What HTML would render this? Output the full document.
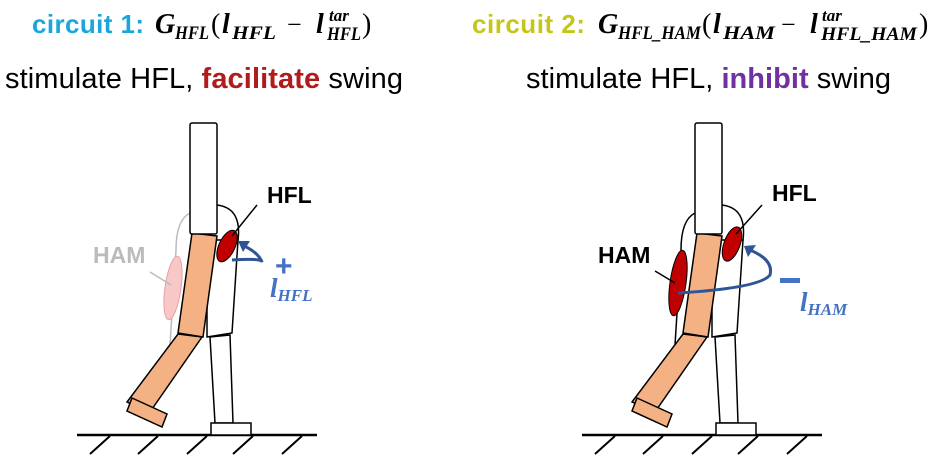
<!DOCTYPE html>
<html><head><meta charset="utf-8"><style>
html,body{margin:0;padding:0;background:#fff;width:942px;height:464px;overflow:hidden}
svg{display:block}
.t{font-family:"Liberation Sans",sans-serif}
.m{font-family:"Liberation Serif",serif;font-style:italic;font-weight:bold}
.p{font-family:"Liberation Serif",serif}
</style></head><body>
<svg width="942" height="464" viewBox="0 0 942 464" xmlns="http://www.w3.org/2000/svg">
<defs>
<g id="body">
  <line x1="77" y1="435" x2="317" y2="435" stroke="#000" stroke-width="2.5"/>
  <g stroke="#000" stroke-width="2">
    <line x1="110" y1="436" x2="90" y2="454"/>
    <line x1="158" y1="436" x2="138" y2="454"/>
    <line x1="207" y1="436" x2="187" y2="454"/>
    <line x1="253" y1="436" x2="233" y2="454"/>
    <line x1="302" y1="436" x2="282" y2="454"/>
  </g>
  <polygon points="210,337 230,335 233,423 215,423" fill="#fff" stroke="#000" stroke-width="1.5"/>
  <rect x="211" y="423" width="40" height="12" fill="#fff" stroke="#000" stroke-width="1.5"/>
  <polygon points="207,240 238,240 232,333 207,337" fill="#fff" stroke="#000" stroke-width="1.5"/>
  <polygon points="178,334 202,337 150,412 127,402" fill="#f4b183" stroke="#000" stroke-width="1.5"/>
  <polygon points="132,398 167,414 162,427 127,411" fill="#f4b183" stroke="#000" stroke-width="1.5"/>
  <polygon points="192,233 217,236 203,337 178,333" fill="#f4b183" stroke="#000" stroke-width="1.5"/>
  <rect x="190" y="123" width="27" height="111" rx="2" fill="#fff" stroke="#000" stroke-width="1.5"/>
</g>
</defs>

<!-- titles -->
<text x="32" y="33" class="t" font-size="26" font-weight="bold" fill="#1aa6dc" textLength="112">circuit 1:</text>
<text x="155" y="33" class="m" font-size="28">G</text>
<text x="175" y="39" class="m" font-size="19" textLength="34" lengthAdjust="spacingAndGlyphs">HFL</text>
<text x="211" y="33" class="p" font-size="28">(</text>
<text x="222" y="33" class="m" font-size="28">l</text>
<text x="232" y="39" class="m" font-size="19" textLength="44" lengthAdjust="spacingAndGlyphs">HFL</text>
<text x="287" y="33" class="p" font-size="26">−</text>
<text x="316" y="33" class="m" font-size="28">l</text>
<text x="327" y="40" class="m" font-size="19" textLength="34" lengthAdjust="spacingAndGlyphs">HFL</text>
<text x="329" y="21" class="m" font-size="17">tar</text>
<text x="362" y="33" class="p" font-size="28">)</text>
<text x="5" y="88" class="t" font-size="29" textLength="398">stimulate HFL, <tspan font-weight="bold" fill="#b01c1c">facilitate</tspan> swing</text>

<text x="472" y="33" class="t" font-size="26" font-weight="bold" fill="#c6c61a" textLength="113">circuit 2:</text>
<text x="598" y="33" class="m" font-size="28">G</text>
<text x="618" y="39" class="m" font-size="19" textLength="83" lengthAdjust="spacingAndGlyphs">HFL_HAM</text>
<text x="702" y="33" class="p" font-size="28">(</text>
<text x="713" y="33" class="m" font-size="28">l</text>
<text x="723" y="39" class="m" font-size="19" textLength="52" lengthAdjust="spacingAndGlyphs">HAM</text>
<text x="781" y="33" class="p" font-size="26">−</text>
<text x="810" y="33" class="m" font-size="28">l</text>
<text x="821" y="40" class="m" font-size="19" textLength="96" lengthAdjust="spacingAndGlyphs">HFL_HAM</text>
<text x="822" y="21" class="m" font-size="17">tar</text>
<text x="919" y="33" class="p" font-size="28">)</text>
<text x="526" y="88" class="t" font-size="29" textLength="365">stimulate HFL, <tspan font-weight="bold" fill="#7030a0">inhibit</tspan> swing</text>

<!-- panel 1 -->
<path d="M217,205 Q242,208 238,240 Q232,265 212,280" fill="none" stroke="#000" stroke-width="1.5"/>
<path d="M190,213 Q176,220 176,250 L170,345" fill="none" stroke="#bbb" stroke-width="1.5"/>
<use href="#body"/>
<ellipse cx="173" cy="288" rx="8" ry="32" transform="rotate(8 173 288)" fill="#f8c8c8" stroke="#e8a0a0" stroke-width="1"/>
<line x1="150" y1="272" x2="171" y2="285" stroke="#bbb" stroke-width="1.5"/>
<text x="93" y="263" class="t" font-size="23" font-weight="bold" fill="#bbb">HAM</text>
<ellipse cx="227" cy="246" rx="8" ry="17" transform="rotate(25 227 246)" fill="#c00000" stroke="#000" stroke-width="1"/>
<line x1="232" y1="236" x2="257" y2="205" stroke="#000" stroke-width="1.5"/>
<text x="267" y="203" class="t" font-size="23" font-weight="bold">HFL</text>
<path d="M232,260 Q262,258 262,262 Q258,252 242,245" fill="none" stroke="#2f5597" stroke-width="3"/>
<polygon points="238,241 250,241 243,252" fill="#2f5597"/>
<text x="275" y="276" class="t" font-size="30" font-weight="bold" fill="#4472c4">+</text>
<text x="270" y="297" class="m" font-size="27" fill="#4472c4">l<tspan font-size="17" dy="4">HFL</tspan></text>

<!-- panel 2 -->
<g transform="translate(505,0)">
<path d="M217,205 Q242,208 238,240 Q232,265 212,280" fill="none" stroke="#000" stroke-width="1.5"/>
<path d="M190,213 Q176,220 176,250 L170,345" fill="none" stroke="#000" stroke-width="1.5"/>
<use href="#body"/>
</g>
<ellipse cx="678" cy="283" rx="8" ry="33" transform="rotate(8 678 283)" fill="#c00000" stroke="#000" stroke-width="1"/>
<line x1="655" y1="271" x2="675" y2="283" stroke="#000" stroke-width="1.5"/>
<text x="598" y="263" class="t" font-size="23" font-weight="bold">HAM</text>
<ellipse cx="732" cy="244" rx="8" ry="18" transform="rotate(20 732 244)" fill="#c00000" stroke="#000" stroke-width="1"/>
<line x1="736" y1="234" x2="762" y2="205" stroke="#000" stroke-width="1.5"/>
<text x="772" y="201" class="t" font-size="23" font-weight="bold">HFL</text>
<path d="M678,293 Q760,288 770,275 Q774,260 750,250" fill="none" stroke="#2f5597" stroke-width="3"/>
<polygon points="744,246 756,245 748,257" fill="#2f5597"/>
<rect x="780" y="278" width="20" height="5" fill="#4472c4"/>
<text x="800" y="311" class="m" font-size="27" fill="#4472c4">l<tspan font-size="17" dy="4">HAM</tspan></text>
</svg>
</body></html>
